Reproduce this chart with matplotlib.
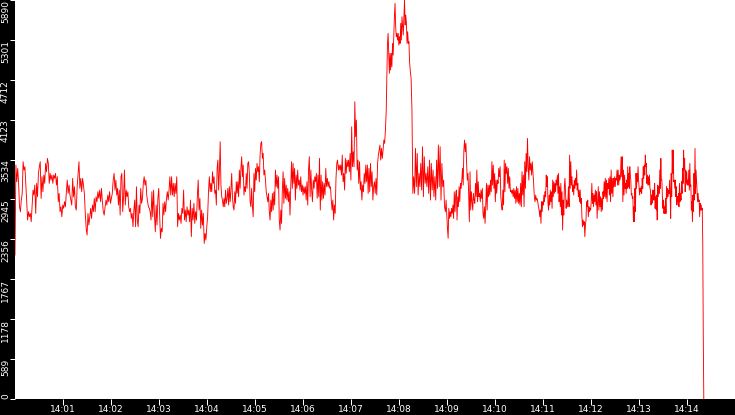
import numpy as np
import pandas as pd
import matplotlib
matplotlib.use("Agg")
import matplotlib.pyplot as plt

# clock times that bound each stretch of samples
seg_times = ["14:00:00", "14:02:05", "14:04:04", "14:06:02", "14:07:44",
             "14:08:14", "14:08:58", "14:10:56", "14:12:42", "14:14:21"]

seg_a = [2125, 3453, 3207, 3404, 3183, 2838, 2765, 2937, 3035, 3503, 3380, 3429, 3183, 2912,
         2642, 2765, 2691, 2740, 2617, 2838, 3084, 3011, 3158, 2740, 3183, 2986, 3330, 3429,
         3503, 2961, 3281, 3060, 3306, 3183, 3478, 3355, 3552, 3478, 3183, 3330, 3232, 3306,
         3183, 3306, 3257, 3330, 3158, 3281, 2912, 3035, 2765, 2838, 2691, 2863, 2814, 2912,
         2838, 3060, 3232, 3035, 3158, 3011, 2937, 2863, 3257, 2986, 3134, 2838, 2789, 3134,
         3330, 3503, 3109, 3257, 3060, 3257, 3158, 3035, 2740, 2519, 2420, 2740, 2568, 2691,
         2814, 2666, 2863, 2765, 2961, 2765, 2986, 2912, 3060, 2961, 3084, 2912, 3109, 2912,
         2765, 2715, 2838, 2937, 2863, 3011, 2912, 3060, 2888, 2961, 3035, 3232, 3330]
seg_b = [3084, 3232, 3011, 3109, 2863, 3084, 2715, 3281, 3330, 2765, 2986, 3380, 2863, 3084,
         2986, 3060, 2838, 2765, 2814, 2666, 2740, 2543, 2789, 2937, 2543, 3134, 2642, 2543,
         2863, 2740, 3109, 2888, 2961, 3183, 3281, 3158, 3232, 3011, 2912, 2838, 2814, 2765,
         2642, 3060, 2691, 3084, 2715, 2469, 2863, 2568, 2961, 3109, 2715, 2371, 2519, 2469,
         2888, 2715, 2912, 2765, 2961, 3060, 2937, 3084, 3281, 3011, 3281, 3011, 3183, 2986,
         3183, 3035, 3281, 2543, 2740, 2642, 2715, 2592, 2814, 2740, 3084, 2642, 2789, 2617,
         2838, 2715, 2789, 2617, 2937, 2396, 2814, 2642, 2888, 2592, 2765, 2642, 2986, 3232,
         2789, 2961, 2519, 2789, 2568, 2740, 2297, 2445, 2346, 2543, 2691, 3060, 3281]
seg_c = [3060, 3183, 3060, 3355, 3183, 3281, 3035, 3084, 2863, 3404, 3527, 3084, 3355, 3798,
         3158, 2986, 2937, 2838, 2961, 2838, 3084, 2888, 2961, 3109, 2863, 3134, 2912, 3084,
         3330, 2986, 2838, 2789, 3060, 2888, 3207, 3035, 3207, 2986, 3380, 3109, 3404, 3576,
         3281, 3453, 3011, 3134, 3060, 3330, 3109, 3478, 3503, 3330, 2912, 2838, 3109, 2838,
         2691, 3330, 3060, 3404, 3232, 3478, 3355, 3429, 3207, 3601, 3773, 3798, 3552, 3626,
         3306, 3380, 3232, 3060, 2986, 2912, 3035, 2765, 2642, 2937, 2765, 3035, 2789, 3060,
         2863, 3380, 3134, 3306, 3109, 3281, 2642, 2494, 2789, 2592, 3084, 3355, 2888, 3257,
         2961, 3158, 2937, 3109, 2912, 3060, 2715, 3158, 3503, 3109, 3478, 3183, 3404, 2937,
         3306, 3109, 3380, 3158, 3232, 3084, 3281, 3060, 3158, 3011, 3134]
seg_d = [3035, 3134, 2937, 3208, 2863, 3380, 3577, 2986, 3380, 3085, 2912, 3232, 3109, 3281,
         3208, 3331, 2962, 3306, 2986, 3552, 2789, 3306, 2937, 3208, 2962, 3183, 3011, 3404,
         3134, 3257, 3134, 3208, 3109, 3134, 2937, 2789, 2937, 2642, 2863, 2740, 3257, 3478,
         3527, 3380, 3454, 3380, 3454, 3306, 3601, 3208, 3331, 3085, 3552, 3331, 3527, 3429,
         3527, 3355, 3626, 3232, 4019, 3429, 3650, 3429, 4388, 3872, 4118, 3380, 3527, 3183,
         3503, 3085, 3208, 2937, 3158, 3060, 3331, 3183, 3454, 3208, 3454, 3035, 3404, 3060,
         3478, 3134, 3355, 2937, 3134, 3208, 3035, 3257, 3011, 3478, 3601, 3675, 3749, 3527,
         3700, 3552, 3675, 3823, 3773, 3970]
seg_peak = [4241, 4733, 5249, 5397, 5102, 4807, 5102, 4856, 5102, 4905, 5249, 5077, 5348, 5643,
            5840, 5495, 5348, 5397, 5299, 5397, 5225, 5348, 5249, 5545, 5299, 5643, 5495, 5373,
            5643, 5889, 5520, 5668, 5545, 5249, 5422, 5249, 5274, 4979]
seg_e = [4856, 4733, 4266, 3035, 3281, 3035, 3700, 3134, 3626, 3011, 3330, 3134, 3478, 3085,
         3724, 2986, 3577, 3183, 3330, 3134, 3429, 3035, 3527, 2937, 3478, 3085, 3380, 2986,
         3281, 2937, 3527, 3109, 3749, 3134, 3724, 2937, 3478, 3134, 3232, 2839]
seg_f = [2765, 2937, 2715, 2519, 2371, 2814, 2666, 2765, 2691, 2814, 2740, 2863, 2666, 3060,
         2765, 3011, 3084, 2642, 2986, 2838, 3134, 2912, 3183, 3109, 3232, 3404, 3158, 3675,
         3822, 3650, 3773, 3478, 3232, 3330, 3035, 2617, 3355, 2789, 3060, 2912, 2789, 3035,
         2937, 2888, 3183, 2986, 3380, 2912, 3207, 2986, 3035, 2912, 3084, 2961, 3109, 2740,
         2666, 2838, 2592, 2863, 3183, 2789, 3158, 2986, 3158, 3011, 3232, 3060, 3503, 3158,
         3453, 3109, 3330, 2912, 3232, 3035, 3232, 3183, 3404, 3281, 3429, 2986, 2863, 2789,
         3084, 2863, 3527, 3060, 3478, 3330, 3429, 3183, 3404, 3109, 3281, 3060, 3084, 3035,
         3084, 2986, 3109, 2961, 3084, 2888, 3134, 2912, 3109, 2888, 3035, 2863, 3183, 2838,
         3355, 3011, 3306, 2838, 3503, 3109, 3626, 3355, 3847, 3429, 3232, 3576, 3380, 3478,
         3306, 3503, 3355, 3183, 2986, 2912, 3011, 2937, 2961, 2912, 2838, 2789]
seg_g = [2691, 2789, 2592, 2912, 2765, 2912, 2863, 3011, 2912, 3060, 2986, 3306, 3134, 3281,
         2888, 2789, 3011, 2863, 3084, 2912, 3060, 2814, 3232, 2986, 3207, 3035, 3183, 3060,
         3232, 3158, 3306, 3035, 3330, 2912, 3134, 2838, 3183, 2715, 3060, 2494, 2937, 2715,
         3134, 3257, 3060, 2814, 2937, 2838, 2912, 3134, 2838, 3601, 3109, 3503, 3158, 3281,
         3060, 3158, 3011, 3232, 3109, 3257, 3158, 3380, 3084, 3183, 2986, 3084, 2912, 3084,
         2888, 2961, 2691, 2543, 2642, 2568, 2617, 2396, 2568, 2642, 2912, 2838, 2937, 2691,
         2838, 2765, 2814, 2789, 2937, 3183, 2888, 3035, 2838, 3011, 2912, 3084, 2863, 3060,
         2666, 2888, 3134, 2789, 3060, 2838, 2986, 2765, 2961, 2789, 3060, 2961, 3207, 2986,
         3257, 2961, 3232, 2912, 3183, 3109, 3257, 3011, 3281, 2912, 3380, 3035, 3257, 2986,
         3257, 3134, 3281, 3134, 3257, 3232, 3380, 3158, 3380, 3158, 3306, 3232, 3281, 3576,
         3281, 3576, 2912, 3380, 3011]
seg_h = [3306, 3109, 3183, 3035, 3232, 3109, 3429, 3134, 3330, 3109, 3429, 3306, 3232, 3011,
         3035, 2961, 2986, 2617, 2838, 2617, 3109, 2765, 3330, 3109, 3330, 3207, 3429, 3232,
         3109, 3011, 3109, 3060, 3134, 3035, 3257, 3109, 3429, 3257, 3453, 3306, 3601, 3429,
         3478, 3183, 3306, 3158, 3281, 3158, 3306, 3109, 3084, 2863, 3011, 2888, 3084, 2937,
         3084, 2937, 3183, 2814, 2986, 2789, 3011, 2642, 3158, 2986, 3134, 3035, 3380, 3109,
         3552, 3232, 3232, 2986, 2814, 2937, 2740, 2838, 2740, 2961, 2740, 3134, 2961, 3109,
         2986, 3084, 3035, 3232, 3011, 2666, 3330, 2986, 3675, 3330, 3675, 3207, 3232, 3109,
         3232, 2986, 3134, 2863, 2986, 2912, 3035, 2838, 3183, 2912, 3035, 2937, 3207, 3035,
         3404, 3183, 3675, 3380, 3552, 3060, 3380, 3183, 3355, 3158, 3232, 3158, 3380, 3084,
         3478, 3134, 3158, 2789, 2912, 2617, 3011, 2765, 3330, 2937, 3700, 3035, 3380, 3232,
         3060, 2912, 3035, 2912, 2937, 2691, 2888, 2789, 2863, 2789, 2814, 2297, 900, 0]
segments = [seg_a, seg_b, seg_c, seg_d, seg_peak, seg_e, seg_f, seg_g, seg_h]

y_ticks = [0, 589, 1178, 1767, 2356, 2945, 3534, 4123, 4712, 5301, 5890]
y_labels = ["0", "589", "1178", "1767", "2356", "2945", "3534", "4123", "4712", "5301", "5890"]
x_labels = ["14:%02d" % m for m in range(1, 15)]

day = "2000-01-01 "
bounds = pd.to_datetime([day + t for t in seg_times])
times, values = [], []
for i, seg in enumerate(segments):
    last = i == len(segments) - 1
    t = pd.date_range(bounds[i], bounds[i + 1], periods=len(seg) + (0 if last else 1))
    times.extend(t if last else t[:-1])
    values.extend(seg)

fig = plt.figure(figsize=(7.35, 4.15), dpi=100, facecolor="black")
ax = fig.add_axes([15 / 735, 16 / 415, 720 / 735, 399 / 415])
ax.set_facecolor("white")
for s in ax.spines.values():
    s.set_visible(False)

ax.plot(times, values, color="#ff0000", lw=0.65)

ax.set_xlim(pd.Timestamp(day + "14:00:00"), pd.Timestamp(day + "14:15:00"))
ax.set_ylim(0, 5890)
ax.set_xticks(pd.to_datetime([day + s for s in x_labels]))
ax.set_xticklabels(x_labels)
ax.set_yticks(y_ticks)
ax.set_yticklabels(y_labels, rotation=90, va="top")
ax.get_yticklabels()[0].set_va("bottom")

ax.tick_params(colors="white", labelsize=6.5, width=0.72)
ax.tick_params(axis="y", length=3.6, pad=0)
ax.tick_params(axis="x", length=4.3, pad=0)

fig.savefig("out.png", dpi=100, facecolor="black")
